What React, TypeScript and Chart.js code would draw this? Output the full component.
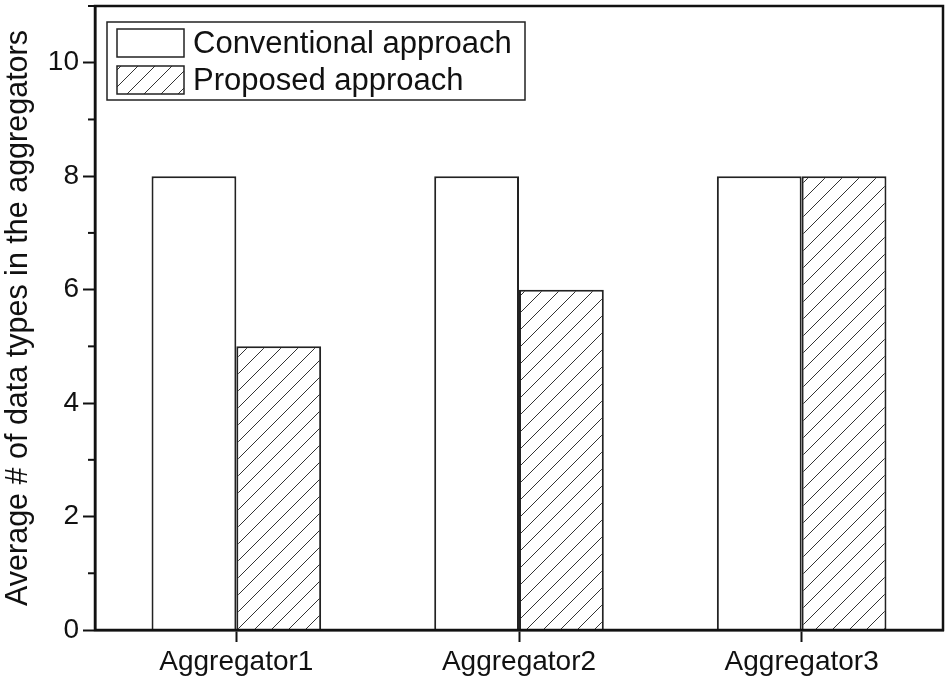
import React, { useEffect, useRef } from "react";
import { Chart, registerables } from "chart.js";

Chart.register(...registerables);

const categories = ["Aggregator1", "Aggregator2", "Aggregator3"];
const conventional = [8, 8, 8];
const proposed = [5, 6, 8];
const seriesNames = ["Conventional approach", "Proposed approach"];
const yTitle = "Average # of data types in the aggregators";

const FONT = "'Liberation Sans', Arial, sans-serif";

function makeHatch(): CanvasPattern | string {
  const s = 17;
  const c = document.createElement("canvas");
  c.width = s;
  c.height = s;
  const g = c.getContext("2d");
  if (!g) return "#fff";
  g.fillStyle = "#fff";
  g.fillRect(0, 0, s, s);
  g.strokeStyle = "#333";
  g.lineWidth = 1;
  g.beginPath();
  g.moveTo(-2, s + 2);
  g.lineTo(s + 2, -2);
  g.moveTo(-2, 2);
  g.lineTo(2, -2);
  g.moveTo(s - 2, s + 2);
  g.lineTo(s + 2, s - 2);
  g.stroke();
  const p = g.createPattern(c, "repeat");
  return p || "#fff";
}

export default function App() {
  const ref = useRef<HTMLCanvasElement | null>(null);
  useEffect(() => {
    document.body.style.margin = "0";
    const canvas = ref.current;
    if (!canvas) return;
    const hatch = makeHatch();

    const framePlugin = {
      id: "frame",
      afterDraw(chart: any) {
        const { ctx, chartArea } = chart;
        const ys = chart.scales.y;
        ctx.save();
        ctx.strokeStyle = "#111";
        ctx.lineWidth = 2.5;
        ctx.strokeRect(chartArea.left, chartArea.top, chartArea.right - chartArea.left, chartArea.bottom - chartArea.top);
        // minor ticks
        ctx.lineWidth = 2;
        for (let v = 1; v <= 11; v += 2) {
          const y = ys.getPixelForValue(v);
          ctx.beginPath();
          ctx.moveTo(chartArea.left - 7, y);
          ctx.lineTo(chartArea.left, y);
          ctx.stroke();
        }
        // legend
        const lx = 107, ly = 22, lw = 418, lh = 78;
        ctx.lineWidth = 1.5;
        ctx.strokeStyle = "#222";
        ctx.fillStyle = "#fff";
        ctx.fillRect(lx, ly, lw, lh);
        ctx.strokeRect(lx, ly, lw, lh);
        const fills = ["#fff", hatch];
        const rows = [29, 66];
        ctx.font = `31px ${FONT}`;
        ctx.textBaseline = "middle";
        for (let i = 0; i < 2; i++) {
          ctx.fillStyle = fills[i] as any;
          ctx.fillRect(117, rows[i], 67, 28);
          ctx.strokeStyle = "#222";
          ctx.lineWidth = 1.5;
          ctx.strokeRect(117, rows[i], 67, 28);
          ctx.fillStyle = "#111";
          ctx.fillText(seriesNames[i], 193, rows[i] + 15);
        }
        ctx.restore();
      },
    };

    const chart = new Chart(canvas, {
      type: "bar",
      data: {
        labels: categories,
        datasets: [
          {
            label: seriesNames[0],
            data: conventional,
            backgroundColor: "#ffffff",
            borderColor: "#222",
            borderWidth: 2,
            categoryPercentage: 0.6,
            barPercentage: 1,
          },
          {
            label: seriesNames[1],
            data: proposed,
            backgroundColor: hatch as any,
            borderColor: "#222",
            borderWidth: 2,
            categoryPercentage: 0.6,
            barPercentage: 1,
          },
        ],
      },
      options: {
        animation: false,
        responsive: false,
        maintainAspectRatio: false,
        devicePixelRatio: 1,
        layout: { padding: { left: 0, right: 7, top: 6, bottom: 0 } },
        plugins: { legend: { display: false }, tooltip: { enabled: false } },
        scales: {
          x: {
            grid: {
              offset: false,
              drawOnChartArea: false,
              drawTicks: true,
              tickLength: 12,
              tickWidth: 2,
              tickColor: "#111",
            },
            border: { display: true, color: "#111", width: 2.5 },
            ticks: { color: "#111", font: { family: FONT, size: 28 }, padding: 3 },
            afterFit(scale: any) {
              scale.height = 55;
              scale.paddingLeft = 0;
              scale.paddingRight = 0;
            },
          },
          y: {
            min: 0,
            max: 11,
            grid: {
              drawOnChartArea: false,
              drawTicks: true,
              tickLength: 12,
              tickWidth: 2,
              tickColor: (c: any) => (c.tick && c.tick.value % 2 === 0 ? "#111" : "rgba(0,0,0,0)"),
            },
            border: { display: true, color: "#111", width: 2.5 },
            ticks: {
              stepSize: 1,
              color: "#111",
              font: { family: FONT, size: 28 },
              padding: 4,
              callback: (v: any) => (Number(v) % 2 === 0 ? String(v) : ""),
            },
            title: {
              display: true,
              text: yTitle,
              color: "#111",
              font: { family: FONT, size: 30.5 },
              padding: { top: 0, bottom: 1 },
            },
            afterFit(scale: any) {
              scale.width = 95;
              scale.paddingTop = 0;
              scale.paddingBottom = 0;
            },
          },
        },
      },
      plugins: [framePlugin],
    });
    return () => chart.destroy();
  }, []);
  return (
    <div style={{ width: 950, height: 685 }}>
      <canvas ref={ref} width={950} height={685} style={{ width: 950, height: 685, display: "block" }} />
    </div>
  );
}
